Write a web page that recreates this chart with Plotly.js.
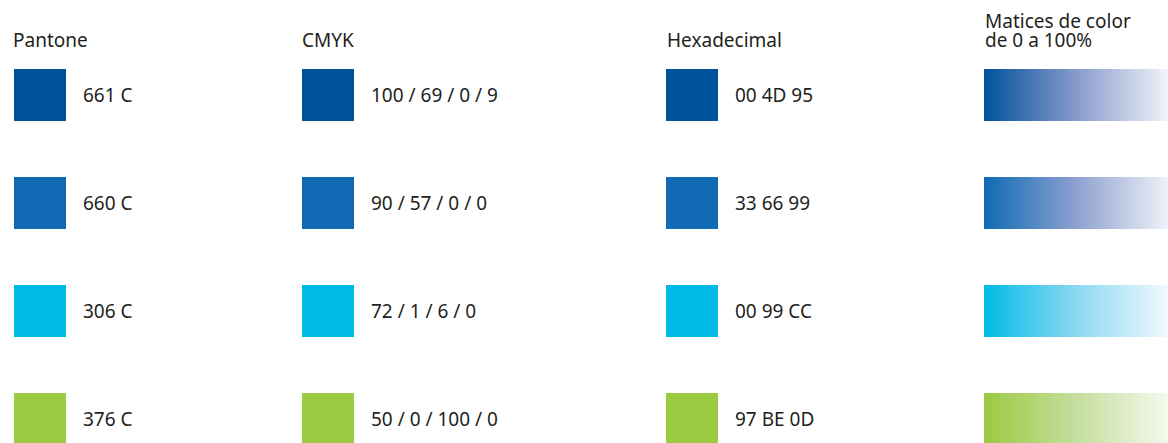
<!DOCTYPE html>
<html>
<head>
<meta charset="utf-8">
<script src="https://cdn.plot.ly/plotly-3.0.1.min.js"></script>
<style>
  html, body { margin: 0; padding: 0; background: #ffffff; }
  #chart { width: 1168px; height: 443px; }
</style>
</head>
<body>
<div id="chart"></div>
<script>
// ---- Data ----
const headers = ['Pantone', 'CMYK', 'Hexadecimal', 'Matices de color<br>de 0 a 100%'];
const pantone = ['661 C', '660 C', '306 C', '376 C'];
const cmyk = ['100 / 69 / 0 / 9', '90 / 57 / 0 / 0', '72 / 1 / 6 / 0', '50 / 0 / 100 / 0'];
const hexCodes = ['00 4D 95', '33 66 99', '00 99 CC', '97 BE 0D'];
const swatchColors = ['#00519C', '#106AB4', '#00BBE6', '#9BCA40'];
const tintMid = ['#8A9CCC', '#8FA2D0', '#8FD8F2', '#C6DEA0'];
const tintEnd = ['#F6F7FC', '#F3F5FB', '#F4FBFE', '#F6FAF0'];

// ---- Layout constants ----
const W = 1168, H = 443;
const SQ = 52;
const colLeft = [14, 302, 666];
const gradLeft = 984, gradRight = 1172;
const rowCenter = i => 95 + i * 108;
const textColor = '#231F20';
const FONT = 'Noto Sans, Liberation Sans, sans-serif';
const FS = 19;
const LINE_GAP = 19;

const labelsByCol = [pantone, cmyk, hexCodes];
const traces = [];
const annotations = [];

labelsByCol.forEach((labels, c) => {
  traces.push({
    type: 'scatter', mode: 'markers',
    x: labels.map(() => colLeft[c] + SQ / 2),
    y: labels.map((_, i) => rowCenter(i)),
    marker: { symbol: 'square', size: SQ, color: swatchColors, line: { width: 0 } },
    hoverinfo: 'skip', showlegend: false
  });
  labels.forEach((t, i) => {
    annotations.push({
      x: colLeft[c] + SQ + 15, y: rowCenter(i), xref: 'x', yref: 'y',
      xanchor: 'left', yanchor: 'middle', showarrow: false,
      text: t, font: { family: FONT, size: FS, color: textColor }
    });
  });
});

// gradient bars
swatchColors.forEach((col, i) => {
  const top = rowCenter(i) - SQ / 2, bot = rowCenter(i) + SQ / 2;
  traces.push({
    type: 'scatter', mode: 'none',
    x: [gradLeft, gradRight, gradRight, gradLeft, gradLeft],
    y: [top, top, bot, bot, top],
    fill: 'toself',
    fillgradient: {
      type: 'horizontal',
      colorscale: [[0, col], [0.5, tintMid[i]], [1, tintEnd[i]]]
    },
    hoverinfo: 'skip', showlegend: false
  });
});

// headers (multi-line headers drawn line by line, bottom-aligned)
const headerX = [11, 300, 665, 983];
headers.forEach((h, c) => {
  const lines = h.split('<br>');
  lines.forEach((ln, k) => {
    annotations.push({
      x: headerX[c], y: 55 - (lines.length - 1 - k) * LINE_GAP, xref: 'x', yref: 'y',
      xanchor: 'left', yanchor: 'bottom', showarrow: false, align: 'left',
      text: ln, font: { family: FONT, size: FS, color: textColor }
    });
  });
});

const layout = {
  width: W, height: H,
  margin: { l: 0, r: 0, t: 0, b: 0 },
  paper_bgcolor: '#ffffff', plot_bgcolor: '#ffffff',
  xaxis: { range: [0, W], visible: false, fixedrange: true },
  yaxis: { range: [H, 0], visible: false, fixedrange: true },
  annotations: annotations,
  showlegend: false
};

Plotly.newPlot('chart', traces, layout, { staticPlot: true, displayModeBar: false });
</script>
</body>
</html>
